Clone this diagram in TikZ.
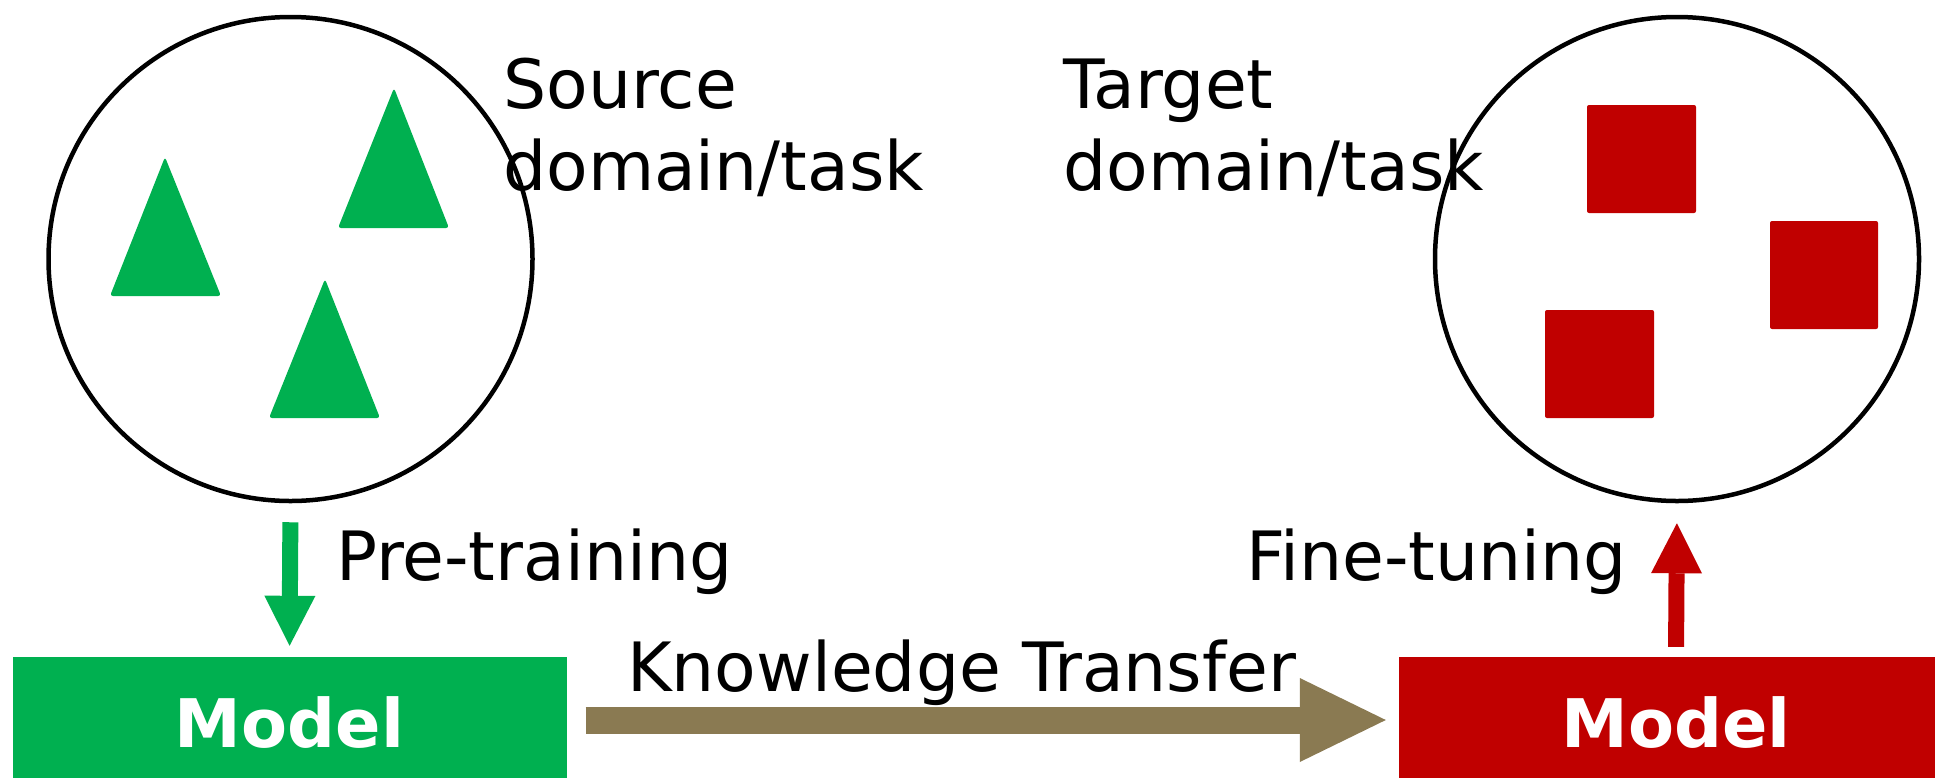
\documentclass[tikz,border=0pt]{standalone}
\usepackage{fontspec}
\setmainfont{DejaVu Sans}
\usetikzlibrary{arrows.meta}
\definecolor{mgreen}{HTML}{00B050}
\definecolor{mred}{HTML}{C00000}
\definecolor{mbrown}{HTML}{8A7A52}
\tikzset{
  dom/.style={circle, draw=black, line width=4.5pt, minimum size=484pt, inner sep=0pt},
  lbl/.style={anchor=base west, inner sep=0pt, font=\fontsize{68}{80}\selectfont},
  modelbox/.style={rectangle, minimum width=554pt, minimum height=126pt, inner sep=0pt,
    text=white, font=\fontsize{67}{80}\selectfont\bfseries, text height=54pt, text depth=0pt},
  tri/.style={fill=mgreen, rounded corners=3pt},
  sq/.style={fill=mred, rounded corners=2pt},
  vflow/.style={line width=16pt, -{Triangle[width=51pt,length=50pt,line width=0pt]}},
}
\begin{document}
\begin{tikzpicture}[x=1pt,y=-1pt]
\useasboundingbox (0,0) rectangle (1935,777);
% domains
\node[dom] (src) at (290.5,259) {};
\node[dom] (tgt) at (1677,259) {};
% triangles
\fill[tri] (165,157) -- (221,296) -- (110,296) -- cycle;
\fill[tri] (394,88) -- (449,228) -- (338,228) -- cycle;
\fill[tri] (325,279) -- (380,418) -- (269,418) -- cycle;
% squares
\fill[sq] (1587,105) rectangle (1696,213);
\fill[sq] (1770,221) rectangle (1878,329);
\fill[sq] (1545,310) rectangle (1654,418);
% labels
\node[lbl] (s1) at (503,108) {Source};
\node[lbl] (s2) at (503,190) {domain/task};
\node[lbl] (t1) at (1063,108) {Target};
\node[lbl] (t2) at (1063,190) {domain/task};
% models
\node[modelbox, fill=mgreen] (gm) at (289.5,720) {Model};
\node[modelbox, fill=mred] (rm) at (1676,720) {Model};
% arrows
\draw[vflow, mgreen, shorten <=19pt, shorten >=11pt] (src.south) -- (gm.north);
\draw[vflow, mred, shorten <=10pt, shorten >=20pt] (rm.north) -- (tgt.south);
\draw[mbrown, line width=27pt, shorten <=19pt, shorten >=13pt,
  -{Triangle[width=84pt,length=86pt,line width=0pt]}] (gm.east) -- (rm.west);
\node[lbl] (pre) at (336,580) {Pre-training};
\node[lbl] (fine) at (1246,580) {Fine-tuning};
\node[lbl] (kt) at (627,691) {Knowledge Transfer};
\end{tikzpicture}
\end{document}
